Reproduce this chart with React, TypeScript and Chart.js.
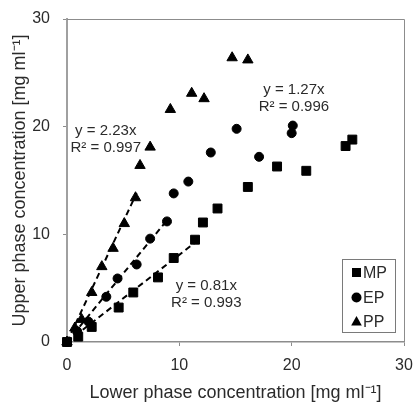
import React, { useEffect, useRef } from 'react';
import { Chart, registerables } from 'chart.js';

Chart.register(...registerables);

// Data (mg/ml)
const mpX = [0, 1.0, 2.2, 4.6, 5.9, 8.1, 9.5, 11.4, 12.1, 13.4, 16.1, 18.7, 21.3, 24.8, 25.4];
const mpY = [0, 0.5, 1.4, 3.2, 4.6, 6.0, 7.8, 9.5, 11.1, 12.4, 14.4, 16.3, 15.9, 18.2, 18.8];

const epX = [0, 0.9, 1.9, 3.5, 4.5, 6.2, 7.4, 8.9, 9.5, 10.8, 12.8, 15.1, 17.1, 20.0, 20.1];
const epY = [0, 1.0, 1.9, 4.2, 5.9, 7.2, 9.6, 11.2, 13.8, 14.9, 17.6, 19.8, 17.2, 19.4, 20.1];

const ppX = [0, 0.7, 1.3, 2.2, 3.1, 4.1, 5.1, 6.1, 6.5, 7.4, 9.2, 11.1, 12.2, 14.7, 16.1];
const ppY = [0, 1.3, 2.1, 4.6, 7.0, 8.7, 11.0, 13.4, 16.4, 18.1, 21.6, 23.1, 22.6, 26.4, 26.2];

const seriesNames = ['MP', 'EP', 'PP'];
const fitSlopes = [0.81, 1.27, 2.23];
const fitXMax = [11.4, 8.9, 6.2];
const eqLabels = ['y = 0.81x', 'y = 1.27x', 'y = 2.23x'];
const r2Labels = ['R\u00B2 = 0.993', 'R\u00B2 = 0.996', 'R\u00B2 = 0.997'];
const axisTicks = [0, 10, 20, 30];

const xTitle = 'Lower phase concentration [mg ml\u207B\u00B9]';
const yTitle = 'Upper phase concentration [mg ml\u207B\u00B9]';

// label anchors (data units) for the equation text
const labelAnchors = [
  { x: 12.4, y: 5.2 },
  { x: 20.2, y: 23.4 },
  { x: 3.45, y: 19.6 },
];

const FONT = '"Liberation Sans", Arial, Helvetica, sans-serif';
const TEXT = '#2b2b2b';
const AXIS = '#8c8c8c';

function drawMarker(ctx: CanvasRenderingContext2D, kind: string, x: number, y: number) {
  ctx.beginPath();
  if (kind === 'rect') {
    ctx.rect(x - 4.5, y - 4.5, 9, 9);
  } else if (kind === 'circle') {
    ctx.arc(x, y, 5, 0, Math.PI * 2);
  } else {
    ctx.moveTo(x, y - 5.5);
    ctx.lineTo(x + 5.3, y + 4);
    ctx.lineTo(x - 5.3, y + 4);
    ctx.closePath();
  }
  ctx.fill();
}

export default function App() {
  const ref = useRef<HTMLCanvasElement>(null);

  useEffect(() => {
    document.body.style.margin = '0';
    const canvas = ref.current!;
    const pts = (xs: number[], ys: number[]) => xs.map((x, i) => ({ x, y: ys[i] }));
    const styles = ['rect', 'circle', 'triangle'];
    const radii = [6.3, 4.5, 6];
    const raw = [pts(mpX, mpY), pts(epX, epY), pts(ppX, ppY)];

    const scatterSets = raw.map((d, i) => ({
      label: seriesNames[i],
      data: d,
      pointStyle: styles[i],
      pointRadius: radii[i],
      pointBackgroundColor: '#000',
      pointBorderColor: '#000',
      pointBorderWidth: 1,
      showLine: false,
      clip: false as any,
      order: 0,
    }));

    const fitSets = fitSlopes.map((s, i) => ({
      label: 'fit ' + seriesNames[i],
      data: [
        { x: 0, y: 0 },
        { x: fitXMax[i], y: s * fitXMax[i] },
      ],
      showLine: true,
      borderColor: '#000',
      borderWidth: 2,
      borderDash: [6, 4],
      pointRadius: 0,
      order: 1,
    }));

    const annotationPlugin = {
      id: 'eqLabels',
      afterDatasetsDraw(chart: any) {
        const { ctx, scales } = chart;
        ctx.save();
        ctx.fillStyle = TEXT;
        ctx.font = `15px ${FONT}`;
        ctx.textAlign = 'center';
        ctx.textBaseline = 'middle';
        labelAnchors.forEach((a, i) => {
          const px = scales.x.getPixelForValue(a.x);
          const py = scales.y.getPixelForValue(a.y);
          ctx.fillText(eqLabels[i], px, py);
          ctx.fillText(r2Labels[i], px, py + 17);
        });
        ctx.restore();
      },
    };

    const framePlugin = {
      id: 'frame',
      afterDraw(chart: any) {
        const { ctx, chartArea: ca } = chart;
        ctx.save();
        ctx.strokeStyle = AXIS;
        ctx.lineWidth = 1;
        ctx.beginPath();
        ctx.moveTo(ca.left, Math.round(ca.top) + 0.5);
        ctx.lineTo(Math.round(ca.right) + 0.5, Math.round(ca.top) + 0.5);
        ctx.lineTo(Math.round(ca.right) + 0.5, ca.bottom);
        ctx.stroke();

        // legend box
        const bw = 53;
        const bh = 73;
        const bx = Math.round(ca.right - 9 - bw) + 0.5;
        const by = Math.round(ca.bottom - 10 - bh) + 0.5;
        ctx.fillStyle = '#fff';
        ctx.fillRect(bx, by, bw, bh);
        ctx.strokeStyle = '#7a7a7a';
        ctx.strokeRect(bx, by, bw, bh);
        ctx.font = `16px ${FONT}`;
        ctx.textAlign = 'left';
        ctx.textBaseline = 'middle';
        const rows = [13, 38, 62];
        seriesNames.forEach((name, i) => {
          ctx.fillStyle = '#000';
          drawMarker(ctx, styles[i], bx + 14, by + rows[i]);
          ctx.fillStyle = TEXT;
          ctx.fillText(name, bx + 20.5, by + rows[i] + 1);
        });
        ctx.restore();
      },
    };

    const tickFont = { family: FONT, size: 16, lineHeight: 1.2 };

    const chart = new Chart(canvas, {
      type: 'scatter',
      data: { datasets: [...fitSets, ...scatterSets] as any },
      options: {
        responsive: false,
        animation: false,
        devicePixelRatio: 1,
        layout: { padding: { top: 19, right: 9, left: 0, bottom: 0 } },
        plugins: {
          legend: { display: false },
          tooltip: { enabled: false },
        },
        scales: {
          x: {
            type: 'linear',
            min: 0,
            max: 30,
            afterFit: (s: any) => {
              s.height = 60;
              s.paddingLeft = 0;
              s.paddingRight = 0;
            },
            afterBuildTicks: (s: any) => {
              s.ticks = axisTicks.map((v) => ({ value: v }));
            },
            border: { color: AXIS, width: 1.5 },
            grid: { drawOnChartArea: false, drawTicks: true, tickLength: 4, color: AXIS, lineWidth: 1 },
            ticks: { color: TEXT, font: tickFont, padding: 10, maxRotation: 0 },
            title: {
              display: true,
              text: xTitle,
              color: TEXT,
              font: { family: FONT, size: 18, lineHeight: 1 },
              padding: { top: 0, bottom: 0 },
            },
          },
          y: {
            type: 'linear',
            min: 0,
            max: 30,
            afterFit: (s: any) => {
              s.width = 67;
              s.paddingTop = 0;
              s.paddingBottom = 0;
            },
            afterBuildTicks: (s: any) => {
              s.ticks = axisTicks.map((v) => ({ value: v }));
            },
            border: { color: '#a0a0a0', width: 2 },
            grid: { drawOnChartArea: false, drawTicks: true, tickLength: 4, color: AXIS, lineWidth: 1 },
            ticks: { color: TEXT, font: tickFont, padding: 13 },
            title: {
              display: true,
              text: yTitle,
              color: TEXT,
              font: { family: FONT, size: 18, lineHeight: 1 },
              padding: { top: 11, bottom: 0 },
            },
          },
        },
      },
      plugins: [annotationPlugin, framePlugin],
    });

    return () => chart.destroy();
  }, []);

  return (
    <div style={{ position: 'absolute', left: 0, top: 0, width: 413, height: 402 }}>
      <canvas ref={ref} width={413} height={402} style={{ display: 'block', width: 413, height: 402 }} />
    </div>
  );
}
